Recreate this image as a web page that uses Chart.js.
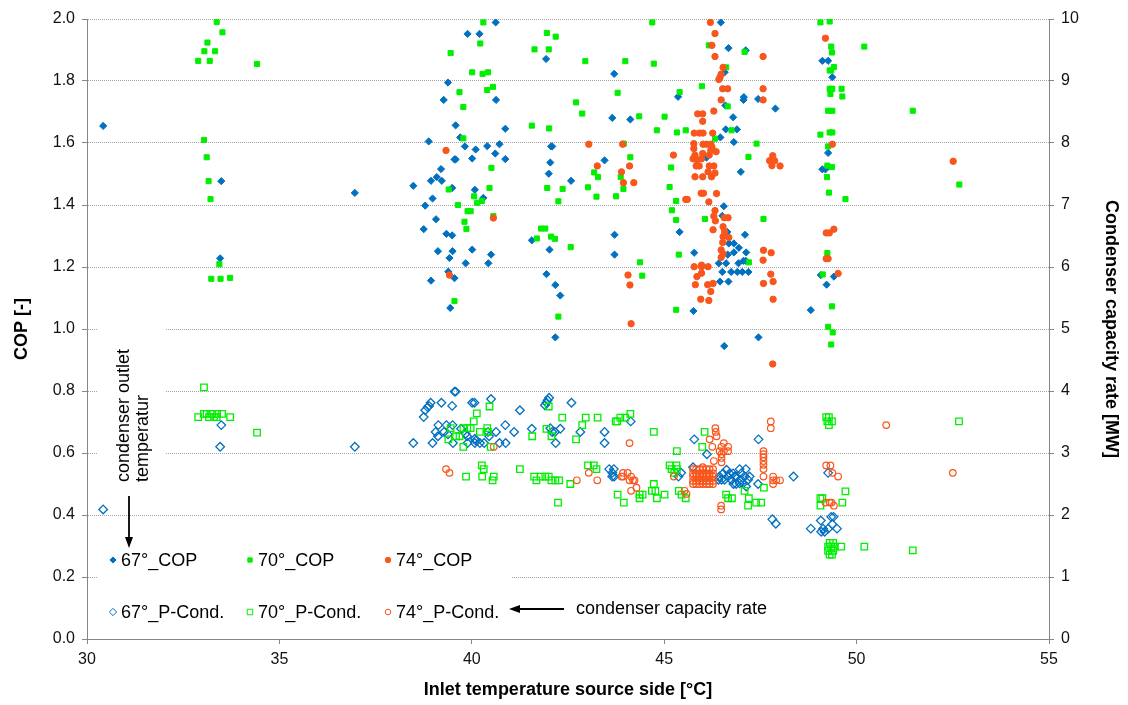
<!DOCTYPE html>
<html>
<head>
<meta charset="utf-8">
<script src="https://cdn.jsdelivr.net/npm/chart.js@4/dist/chart.umd.min.js"></script>
<style>
  html, body { margin: 0; padding: 0; background: #fff; }
  #wrap { width: 1128px; height: 705px; }
</style>
</head>
<body>
<div id="wrap"><canvas id="c" width="1128" height="705"></canvas></div>
<script>
// Series labels and axis texts
const seriesLabels = ['67°_COP', '70°_COP', '74°_COP', '67°_P-Cond.', '70°_P-Cond.', '74°_P-Cond.'];
const xTitle = 'Inlet temperature source side [°C]';
const yTitle = 'COP [-]';
const y2Title = 'Condenser capacity rate [MW]';
const noteOutlet = ['condenser outlet', 'temperatur'];
const noteCapacity = 'condenser capacity rate';

// Axis ranges
const xRange = [30, 55, 5];
const copRange = [0, 2, 0.2];
const capRange = [0, 10, 1];

// COP, condenser outlet 67 °C  [inlet temperature °C, COP]
const cop67 = [
  [30.42,1.655],[33.49,1.477],[33.46,1.228],[36.96,1.439],
  [40.62,1.989],[39.89,1.952],[40.20,1.952],[39.38,1.795],[39.27,1.739],[40.63,1.739],[39.58,1.657],[40.87,1.646],
  [39.70,1.618],[38.88,1.605],[39.82,1.589],[40.10,1.579],[40.40,1.590],[40.72,1.596],[40.61,1.566],[39.55,1.547],
  [39.58,1.547],[40.01,1.550],[40.87,1.548],[39.20,1.516],[39.09,1.490],[38.94,1.478],[39.22,1.478],[38.48,1.462],
  [39.49,1.455],[40.08,1.449],[38.98,1.421],[40.30,1.423],[38.79,1.398],[39.07,1.354],[38.75,1.322],[39.34,1.307],
  [39.49,1.302],[39.12,1.251],[39.50,1.251],[40.01,1.256],[39.42,1.229],[40.50,1.240],[39.84,1.212],[40.43,1.212],
  [39.39,1.185],[39.55,1.164],[38.94,1.156],[39.44,1.068],
  [41.93,1.871],[43.70,1.823],[45.36,1.749],[43.65,1.681],[44.12,1.676],[42.09,1.589],[42.06,1.589],[42.04,1.537],
  [43.45,1.544],[42.00,1.501],[42.58,1.478],[41.56,1.286],[42.02,1.256],[43.71,1.304],[43.71,1.240],[45.40,1.313],
  [41.94,1.177],[42.17,1.142],[42.30,1.108],[42.17,0.973],
  [46.47,1.989],[46.67,1.906],[47.12,1.899],[46.57,1.828],[47.07,1.748],[47.06,1.739],[47.44,1.742],[46.59,1.721],
  [47.89,1.711],[46.79,1.683],[46.60,1.644],[46.89,1.644],[46.46,1.618],[46.81,1.603],[46.10,1.553],[46.99,1.507],
  [46.55,1.396],[46.51,1.365],[46.64,1.313],[47.10,1.304],[46.68,1.276],[46.81,1.276],[46.94,1.262],[46.81,1.247],
  [47.13,1.247],[46.65,1.240],[45.78,1.246],[47.06,1.220],[47.12,1.220],[46.93,1.212],[46.61,1.212],[46.42,1.212],
  [46.51,1.184],[46.74,1.184],[46.90,1.184],[47.03,1.184],[47.19,1.184],[46.45,1.153],[46.67,1.153],[45.76,1.058],
  [47.45,0.973],[46.56,0.945],
  [49.11,1.865],[49.26,1.865],[49.37,1.812],[49.26,1.568],[49.11,1.515],[49.19,1.515],[49.07,1.174],[49.41,1.169],
  [49.22,1.143],[48.81,1.061]
];

// COP, condenser outlet 70 °C
const cop70 = [
  [33.37,1.990],[33.52,1.957],[33.13,1.924],[33.05,1.896],[33.33,1.896],[32.89,1.865],[33.19,1.865],[34.42,1.855],
  [33.04,1.610],[33.11,1.554],[33.16,1.477],[33.21,1.419],[33.44,1.209],[33.23,1.162],[33.47,1.162],[33.72,1.165],
  [40.30,1.989],[40.22,1.921],[39.45,1.890],[40.01,1.828],[40.28,1.823],[40.42,1.828],[39.68,1.764],[40.40,1.771],
  [40.55,1.781],[39.78,1.716],[39.78,1.615],[40.51,1.520],[39.40,1.450],[40.46,1.455],[40.06,1.428],[40.26,1.413],
  [40.14,1.407],[39.64,1.400],[39.89,1.380],[39.97,1.380],[40.56,1.364],[39.81,1.346],[39.86,1.323],[39.55,1.090],
  [44.69,1.989],[41.95,1.955],[42.18,1.943],[41.63,1.902],[42.00,1.902],[42.95,1.864],[43.99,1.864],[44.73,1.856],
  [43.79,1.762],[45.40,1.764],[42.71,1.731],[42.87,1.695],[44.35,1.686],[45.01,1.685],[41.56,1.656],[42.01,1.647],
  [44.81,1.641],[45.33,1.634],[43.95,1.598],[44.12,1.554],[45.18,1.521],[43.18,1.505],[43.28,1.490],[43.87,1.490],
  [41.96,1.455],[42.36,1.452],[43.02,1.457],[43.94,1.452],[45.14,1.458],[42.25,1.412],[43.24,1.427],[43.75,1.428],
  [45.31,1.413],[45.20,1.383],[45.31,1.352],[41.80,1.324],[41.91,1.324],[41.69,1.292],[42.06,1.298],[42.16,1.291],
  [42.57,1.264],[45.38,1.240],[44.37,1.215],[44.43,1.172],[42.25,1.040],[45.31,1.062],
  [46.16,1.915],[47.09,1.894],[46.61,1.844],[45.98,1.783],[46.65,1.718],[45.56,1.641],[46.75,1.641],[46.32,1.614],
  [47.40,1.598],[47.19,1.555],[46.06,1.355],[47.58,1.355],[47.20,1.215],
  [49.06,1.989],[49.30,1.992],[49.34,1.911],[50.20,1.911],[49.36,1.892],[49.41,1.845],[49.34,1.834],[49.30,1.834],
  [49.30,1.775],[49.37,1.775],[49.61,1.775],[49.32,1.758],[49.63,1.750],[49.26,1.704],[49.37,1.704],[51.46,1.704],
  [49.30,1.634],[49.37,1.634],[49.06,1.627],[49.26,1.589],[49.24,1.527],[49.36,1.522],[49.23,1.490],[52.67,1.466],
  [49.28,1.440],[49.71,1.419],[49.24,1.245],[49.12,1.176],[49.36,1.073],[49.26,1.007],[49.38,0.989],[49.34,0.950]
];

// COP, condenser outlet 74 °C
const cop74 = [
  [39.33,1.576],[40.56,1.358],[39.42,1.174],
  [43.04,1.596],[43.92,1.596],[45.24,1.561],[43.26,1.526],[44.10,1.526],[43.89,1.507],[43.94,1.472],[44.21,1.472],
  [44.06,1.174],[44.11,1.142],[44.14,1.017],
  [46.20,1.989],[46.32,1.953],[46.24,1.915],[46.32,1.879],[47.57,1.879],[46.53,1.844],[46.48,1.822],[46.45,1.812],
  [46.42,1.805],[46.52,1.775],[46.65,1.775],[47.57,1.775],[47.57,1.739],[46.48,1.739],[46.29,1.703],[45.87,1.694],
  [46.00,1.694],[46.00,1.670],[45.78,1.632],[45.92,1.632],[46.01,1.632],[46.26,1.632],
  [45.77,1.598],[45.77,1.582],[46.01,1.596],[46.10,1.596],[46.21,1.596],[46.24,1.587],[46.21,1.576],[46.35,1.572],
  [45.80,1.561],[46.00,1.566],[46.17,1.561],[45.85,1.546],[45.75,1.549],[45.97,1.549],[45.83,1.526],[45.91,1.526],
  [46.17,1.526],[46.29,1.526],[46.14,1.507],[46.32,1.503],[45.80,1.491],[46.00,1.491],[46.23,1.491],
  [47.82,1.559],[47.74,1.543],[47.87,1.543],[47.80,1.527],[48.01,1.526],
  [45.96,1.438],[46.02,1.438],[46.36,1.437],[45.56,1.418],[45.60,1.418],[46.16,1.410],[46.32,1.382],
  [46.29,1.364],[46.56,1.359],[46.66,1.359],[46.33,1.349],[46.27,1.320],
  [46.53,1.330],[46.57,1.314],[46.53,1.298],[46.52,1.279],[46.68,1.295],[46.48,1.255],[46.53,1.242],[46.48,1.231],
  [47.58,1.254],[47.78,1.246],[47.57,1.222],
  [45.78,1.201],[45.97,1.201],[46.14,1.201],[45.97,1.206],[45.97,1.180],[45.85,1.169],[45.81,1.143],[46.13,1.143],
  [46.27,1.147],[46.21,1.121],[45.95,1.096],[46.16,1.092],
  [47.77,1.177],[47.83,1.153],[47.58,1.147],[47.83,1.096],[47.82,0.887],
  [49.19,1.938],[49.37,1.596],[52.51,1.541],[49.21,1.310],[49.29,1.310],[49.41,1.322],[49.21,1.227],[49.26,1.227],
  [49.52,1.179]
];

// Condenser capacity rate [MW], condenser outlet 67 °C
const cap67 = [
  [33.49,3.45],[33.46,3.10],[36.96,3.10],[30.42,2.09],
  [39.55,3.99],[39.58,3.99],[38.93,3.81],[38.89,3.76],[38.85,3.74],[38.79,3.69],[38.75,3.58],[39.21,3.81],
  [39.49,3.76],[40.01,3.81],[40.07,3.81],[40.50,3.87],[41.25,3.69],[39.13,3.45],[39.34,3.45],[39.50,3.45],
  [39.06,3.34],[39.28,3.34],[39.12,3.27],[39.38,3.30],[38.98,3.16],[38.48,3.16],[39.72,3.39],[39.84,3.31],
  [39.88,3.27],[39.51,3.16],[39.89,3.16],[40.08,3.23],[40.10,3.20],[40.21,3.16],[40.32,3.16],[40.08,3.16],
  [40.42,3.34],[40.45,3.27],[40.63,3.34],[40.87,3.45],[41.10,3.34],[40.72,3.16],[40.88,3.16],[41.56,3.39],
  [42.01,3.89],[41.97,3.85],[41.94,3.81],[41.90,3.77],[42.59,3.81],[44.13,3.51],[42.04,3.40],[42.09,3.34],
  [42.16,3.34],[42.30,3.39],[42.82,3.34],[43.45,3.34],[42.18,3.16],[43.45,3.16],[43.57,2.74],[43.69,2.74],
  [43.65,2.68],[43.70,2.62],[43.65,2.62],[45.44,2.68],[45.37,2.62],
  [45.78,3.22],[47.45,3.22],[46.11,2.98],[47.44,2.50],[48.36,2.62],[45.75,2.77],[47.81,1.93],[47.90,1.86],
  [46.44,2.62],[46.53,2.67],[46.62,2.73],[46.66,2.62],[46.74,2.57],[46.57,2.57],[46.83,2.62],[46.96,2.74],
  [47.12,2.74],[47.00,2.67],[47.09,2.62],[47.18,2.57],[47.05,2.51],[46.96,2.51],[46.87,2.50],[46.80,2.50],
  [46.41,2.57],[46.49,2.57],[46.70,2.67],[46.79,2.67],[46.87,2.62],[47.00,2.57],[47.13,2.46],[47.22,2.62],
  [49.26,2.68],[49.34,1.97],[49.40,1.97],[49.07,1.91],[48.81,1.78],[49.13,1.78],[49.08,1.73],[49.17,1.73],
  [49.26,1.78],[49.37,1.85],[49.49,1.78]
];

// Condenser capacity rate [MW], condenser outlet 70 °C
const cap70 = [
  [33.04,4.06],[32.89,3.58],[33.04,3.63],[33.11,3.63],[33.17,3.58],[33.25,3.63],[33.30,3.58],[33.38,3.63],
  [33.37,3.58],[33.51,3.63],[33.72,3.58],[34.42,3.33],
  [40.46,3.75],[40.13,3.64],[40.05,3.51],[39.45,3.40],[39.39,3.22],[39.59,3.27],[39.68,3.27],[39.78,3.40],
  [39.88,3.40],[39.97,3.40],[40.21,3.34],[40.40,3.40],[40.42,3.34],[39.78,3.10],[40.49,3.10],[41.57,3.27],
  [40.26,2.80],[40.31,2.74],[39.85,2.62],[40.27,2.62],[40.57,2.62],[40.54,2.56],[41.25,2.74],[41.62,2.62],
  [41.68,2.56],
  [42.00,3.75],[42.35,3.57],[42.96,3.57],[43.27,3.57],[43.86,3.57],[43.99,3.57],[44.12,3.63],[43.74,3.51],
  [43.78,3.51],[42.87,3.45],[41.94,3.39],[42.07,3.27],[42.71,3.22],[44.73,3.34],[45.33,3.03],
  [41.79,2.62],[41.91,2.62],[42.00,2.62],[42.07,2.56],[42.17,2.56],[42.27,2.56],[42.56,2.50],[42.24,2.20],
  [43.02,2.80],[43.17,2.80],[43.24,2.74],
  [43.79,2.33],[43.95,2.20],[44.36,2.33],[44.44,2.33],[44.36,2.27],[44.73,2.50],[44.68,2.39],[44.77,2.39],
  [44.81,2.27],[45.01,2.33],
  [45.14,2.80],[45.32,2.80],[45.19,2.74],[45.33,2.74],[45.26,2.68],[45.38,2.39],[45.45,2.33],[45.56,2.27],
  [46.05,3.34],[45.99,3.10],[46.61,2.33],[46.66,2.27],[46.76,2.27],[47.09,2.39],[47.20,2.27],[47.18,2.15],
  [47.39,2.20],[47.52,2.20],[47.59,2.44],
  [49.21,3.58],[49.28,3.58],[49.24,3.51],[49.36,3.51],[49.28,3.45],[52.66,3.51],[49.71,2.38],[49.06,2.27],
  [49.11,2.27],[49.06,2.15],[49.63,2.20],[49.30,1.55],[49.39,1.55],[49.26,1.49],[49.34,1.49],[49.43,1.49],
  [49.60,1.49],[50.20,1.49],[51.46,1.43],[49.26,1.42],[49.39,1.42],[49.30,1.36],[49.36,1.36]
];

// Condenser capacity rate [MW], condenser outlet 74 °C
const cap74 = [
  [40.57,3.10],[39.33,2.74],[39.42,2.68],
  [44.10,3.16],[42.73,2.56],[43.04,2.68],[43.26,2.56],[43.93,2.68],[44.05,2.68],[44.14,2.62],[43.93,2.62],
  [43.89,2.62],[44.10,2.56],[44.19,2.56],[44.23,2.56],[44.28,2.44],[44.14,2.39],[45.25,2.62],[45.53,2.39],
  [45.58,2.34],
  [47.77,3.51],[47.77,3.40],[46.33,3.40],[46.34,3.34],[46.36,3.27],[46.18,3.22],[46.25,3.10],[46.55,3.16],
  [46.49,3.10],[46.66,3.10],[46.55,3.03],[46.66,3.03],[46.44,3.03],[46.49,2.98],[46.29,2.87],[46.49,2.92],
  [46.49,2.85],
  [47.58,3.03],[47.58,2.98],[47.58,2.93],[47.58,2.87],[47.58,2.81],[47.58,2.74],[47.58,2.62],
  [47.83,2.62],[47.83,2.56],[47.83,2.50],[47.91,2.56],[48.01,2.56],
  [45.75,2.74],[45.83,2.74],[45.92,2.74],[46.01,2.74],[46.10,2.74],[46.18,2.74],[46.27,2.74],
  [45.75,2.67],[45.83,2.67],[45.92,2.67],[46.01,2.67],[46.10,2.67],[46.18,2.67],[46.27,2.67],
  [45.75,2.62],[45.83,2.62],[45.92,2.62],[46.01,2.62],[46.10,2.62],[46.18,2.62],[46.27,2.62],
  [45.75,2.55],[45.83,2.55],[45.92,2.55],[46.01,2.55],[46.10,2.55],[46.18,2.55],[46.27,2.55],
  [45.75,2.50],[45.83,2.50],[45.92,2.50],[46.01,2.50],[46.10,2.50],[46.18,2.50],[46.27,2.50],
  [46.00,2.77],[46.48,2.15],[46.48,2.09],
  [50.77,3.45],[49.21,2.80],[49.32,2.80],[49.37,2.68],[49.52,2.62],[52.50,2.68],[49.19,2.20],[49.30,2.20],
  [49.35,2.20],[49.41,2.15]
];

const FONT = '"Liberation Sans", Arial, Helvetica, sans-serif';
const BLUE = '#0070C0';
const GREEN = '#00EE00';
const ORANGE = '#F8561C';
const AXIS_GRAY = '#868686';

Chart.defaults.font.family = FONT;

const toPoints = arr => arr.map(([x, y]) => ({ x, y }));

// Marker styles per series (same order as seriesLabels)
const markerStyles = [
  { pointStyle: 'rectRot', radius: 3.6, color: BLUE,   fill: true,  width: 1 },
  { pointStyle: 'rect',    radius: 3.6, color: GREEN,  fill: true,  width: 1 },
  { pointStyle: 'circle',  radius: 3.2, color: ORANGE, fill: true,  width: 1 },
  { pointStyle: 'rectRot', radius: 4.3, color: BLUE,   fill: false, width: 1.3 },
  { pointStyle: 'rect',    radius: 4.6, color: GREEN,  fill: false, width: 1.3 },
  { pointStyle: 'circle',  radius: 3.3, color: ORANGE, fill: false, width: 1.2 }
];
const seriesData = [cop67, cop70, cop74, cap67, cap70, cap74];

const datasets = seriesData.map((arr, i) => {
  const m = markerStyles[i];
  return {
    label: seriesLabels[i],
    data: toPoints(arr),
    yAxisID: i < 3 ? 'y' : 'y2',
    pointStyle: m.pointStyle,
    pointRadius: m.radius,
    pointHoverRadius: m.radius,
    backgroundColor: m.fill ? m.color : 'rgba(255,255,255,0)',
    borderColor: m.color,
    borderWidth: m.width,
    showLine: false,
    order: 5 - i
  };
});

// White panels behind the annotation and the legend (they hide the grid lines)
const panels = {
  id: 'panels',
  beforeDatasetsDraw(chart) {
    const ctx = chart.ctx;
    ctx.save();
    ctx.fillStyle = '#fff';
    ctx.fillRect(97, 300, 69, 200);
    ctx.fillRect(98, 524, 414, 112);
    ctx.restore();
  }
};

function arrow(ctx, x1, y1, x2, y2) {
  const ang = Math.atan2(y2 - y1, x2 - x1);
  const head = 11, half = 4;
  ctx.save();
  ctx.strokeStyle = '#000';
  ctx.fillStyle = '#000';
  ctx.lineWidth = 1.8;
  ctx.beginPath();
  ctx.moveTo(x1, y1);
  ctx.lineTo(x2 - Math.cos(ang) * head, y2 - Math.sin(ang) * head);
  ctx.stroke();
  ctx.beginPath();
  ctx.moveTo(x2, y2);
  ctx.lineTo(x2 - Math.cos(ang) * head - Math.sin(ang) * half, y2 - Math.sin(ang) * head + Math.cos(ang) * half);
  ctx.lineTo(x2 - Math.cos(ang) * head + Math.sin(ang) * half, y2 - Math.sin(ang) * head - Math.cos(ang) * half);
  ctx.closePath();
  ctx.fill();
  ctx.restore();
}

// Annotations and the two-row legend inside the plot area
const notes = {
  id: 'notes',
  afterDraw(chart) {
    const ctx = chart.ctx;
    ctx.save();
    ctx.fillStyle = '#000';
    ctx.font = '18px ' + FONT;

    // rotated note about the outlet temperature
    ctx.save();
    ctx.translate(129, 482);
    ctx.rotate(-Math.PI / 2);
    ctx.textAlign = 'left';
    ctx.textBaseline = 'alphabetic';
    ctx.fillText(noteOutlet[0], 0, 0);
    ctx.fillText(noteOutlet[1], 0, 19);
    ctx.restore();
    arrow(ctx, 129, 496, 129, 548);

    // legend entries
    const colX = [113, 250, 388];
    const rowY = [560, 612];
    ctx.textAlign = 'left';
    ctx.textBaseline = 'middle';
    chart.data.datasets.forEach((ds, i) => {
      const m = markerStyles[i];
      const x = colX[i % 3];
      const y = rowY[Math.floor(i / 3)];
      ctx.save();
      ctx.fillStyle = m.fill ? m.color : '#fff';
      ctx.strokeStyle = m.color;
      Chart.helpers.drawPoint(ctx, {
        pointStyle: m.pointStyle,
        radius: m.radius * 0.85,
        rotation: 0,
        borderWidth: m.width
      }, x, y);
      ctx.restore();
      ctx.fillStyle = '#000';
      ctx.fillText(ds.label, x + 8, y + 1);
    });

    // capacity note with arrow pointing to the legend
    arrow(ctx, 564, 609, 509, 609);
    ctx.fillText(noteCapacity, 576, 609);
    ctx.restore();
  }
};

new Chart(document.getElementById('c'), {
  type: 'scatter',
  data: { datasets },
  plugins: [panels, notes],
  options: {
    responsive: false,
    animation: false,
    devicePixelRatio: 1,
    layout: { padding: { top: 19, left: 0, right: 0, bottom: 0 } },
    plugins: { legend: { display: false }, tooltip: { enabled: false } },
    scales: {
      x: {
        type: 'linear', position: 'bottom',
        min: xRange[0], max: xRange[1],
        ticks: { stepSize: xRange[2], padding: 6, color: '#111', font: { size: 16 } },
        grid: { drawOnChartArea: false, tickLength: 5, tickColor: AXIS_GRAY },
        border: { color: AXIS_GRAY, width: 1 },
        title: { display: true, text: xTitle, color: '#000', font: { size: 18, weight: 'bold' }, padding: { top: 0, bottom: 4 } },
        afterFit(s) { s.height = 66; }
      },
      y: {
        type: 'linear', position: 'left',
        min: copRange[0], max: copRange[1],
        ticks: { stepSize: copRange[2], padding: 7, color: '#111', font: { size: 16 }, callback: v => Number(v).toFixed(1) },
        grid: { color: '#A4A4A4', lineWidth: 1, tickLength: 5, tickColor: AXIS_GRAY },
        border: { color: AXIS_GRAY, width: 1, dash: [1, 1] },
        title: { display: true, text: yTitle, color: '#000', font: { size: 18, weight: 'bold' }, padding: { top: 11, bottom: 0 } },
        afterFit(s) { s.width = 87; }
      },
      y2: {
        type: 'linear', position: 'right',
        min: capRange[0], max: capRange[1],
        ticks: { stepSize: capRange[2], padding: 7, color: '#111', font: { size: 16 } },
        grid: { drawOnChartArea: false, tickLength: 5, tickColor: AXIS_GRAY },
        border: { color: AXIS_GRAY, width: 1 },
        title: { display: true, text: y2Title, color: '#000', font: { size: 18, weight: 'bold' }, padding: { top: 6, bottom: 0 } },
        afterFit(s) { s.width = 79; }
      }
    }
  }
});
</script>
</body>
</html>
